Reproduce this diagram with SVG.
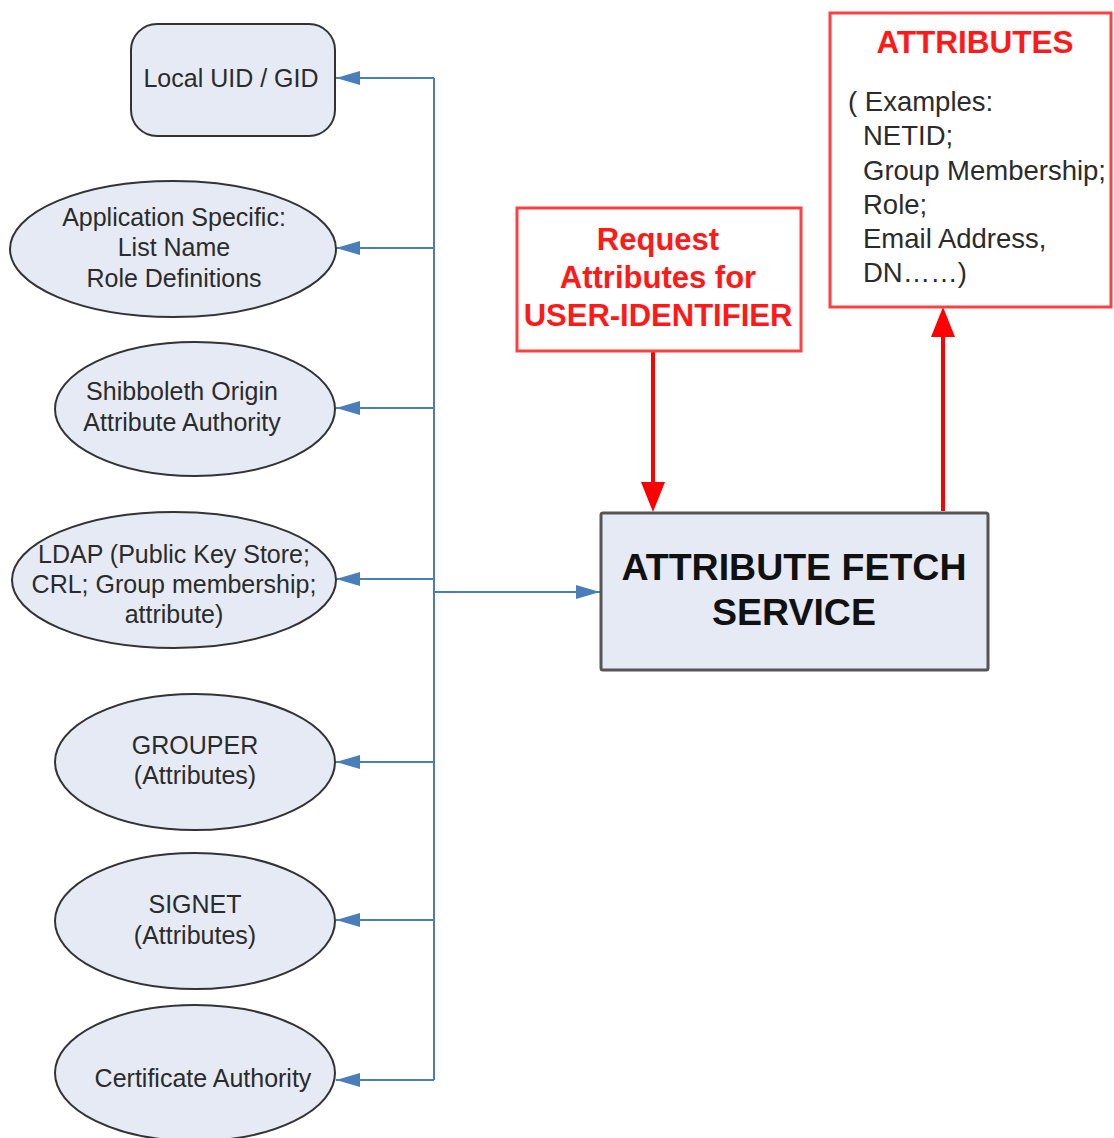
<svg xmlns="http://www.w3.org/2000/svg" width="1114" height="1138" viewBox="0 0 1114 1138">
  <style>
    .node { fill: #e5eaf5; stroke: #333; stroke-width: 2; }
    .lbl { font-family: "Liberation Sans", Arial, sans-serif; font-size: 25px; fill: #2b2b2b; text-anchor: middle; }
    .blue { stroke: #4a7ebb; stroke-width: 2; fill: none; }
    .red { stroke: #ff0000; stroke-width: 4; fill: none; }
    .redbox { fill: #ffffff; stroke: #ff4040; stroke-width: 3; }
    .redtxt { font-family: "Liberation Sans", Arial, sans-serif; font-weight: bold; fill: #ff1a1a; text-anchor: middle; }
    .body { font-family: "Liberation Sans", Arial, sans-serif; font-size: 27.5px; fill: #2b2b2b; }
  </style>
  <defs>
    <marker id="arrowBlue" markerUnits="userSpaceOnUse" markerWidth="24" markerHeight="14" refX="24" refY="7" orient="auto">
      <path d="M0,0 L24,7 L0,14 z" fill="#4a7ebb"/>
    </marker>
    <marker id="arrowRed" markerUnits="userSpaceOnUse" markerWidth="30" markerHeight="24" refX="20" refY="12" orient="auto">
      <path d="M0,0 L30,12 L0,24 z" fill="#ff0000"/>
    </marker>
  </defs>
  <rect width="1114" height="1138" fill="#ffffff"/>

  <!-- connectors -->
  <g id="connectors">
    <line class="blue" x1="434" y1="78" x2="434" y2="1080"/>
    <line class="blue" x1="434" y1="78" x2="336" y2="78" marker-end="url(#arrowBlue)"/>
    <line class="blue" x1="434" y1="248" x2="336" y2="248" marker-end="url(#arrowBlue)"/>
    <line class="blue" x1="434" y1="408" x2="336" y2="408" marker-end="url(#arrowBlue)"/>
    <line class="blue" x1="434" y1="579" x2="336" y2="579" marker-end="url(#arrowBlue)"/>
    <line class="blue" x1="434" y1="762" x2="336" y2="762" marker-end="url(#arrowBlue)"/>
    <line class="blue" x1="434" y1="920" x2="336" y2="920" marker-end="url(#arrowBlue)"/>
    <line class="blue" x1="434" y1="1080" x2="336" y2="1080" marker-end="url(#arrowBlue)"/>
    <line class="blue" x1="434" y1="592" x2="600" y2="592" marker-end="url(#arrowBlue)"/>
    <line class="red" x1="653" y1="352" x2="653" y2="502" marker-end="url(#arrowRed)"/>
    <line class="red" x1="943" y1="511" x2="943" y2="317" marker-end="url(#arrowRed)"/>
  </g>

  <!-- sources -->
  <g id="local-uid">
    <rect class="node" x="131" y="24" width="204" height="112" rx="26"/>
    <text class="lbl" x="231" y="87">Local UID / GID</text>
  </g>
  <g id="app-specific">
    <ellipse class="node" cx="173" cy="249" rx="163" ry="68"/>
    <text class="lbl" x="174" y="226">Application Specific:</text>
    <text class="lbl" x="174" y="256">List Name</text>
    <text class="lbl" x="174" y="287">Role Definitions</text>
  </g>
  <g id="shibboleth">
    <ellipse class="node" cx="195" cy="409" rx="140" ry="67"/>
    <text class="lbl" x="182" y="400">Shibboleth Origin</text>
    <text class="lbl" x="182" y="431">Attribute Authority</text>
  </g>
  <g id="ldap">
    <ellipse class="node" cx="174" cy="580" rx="162" ry="68"/>
    <text class="lbl" x="174" y="563">LDAP (Public Key Store;</text>
    <text class="lbl" x="174" y="593">CRL; Group membership;</text>
    <text class="lbl" x="174" y="623">attribute)</text>
  </g>
  <g id="grouper">
    <ellipse class="node" cx="195" cy="762" rx="140" ry="68"/>
    <text class="lbl" x="195" y="754">GROUPER</text>
    <text class="lbl" x="195" y="784">(Attributes)</text>
  </g>
  <g id="signet">
    <ellipse class="node" cx="195" cy="921" rx="140" ry="68"/>
    <text class="lbl" x="195" y="913">SIGNET</text>
    <text class="lbl" x="195" y="944">(Attributes)</text>
  </g>
  <g id="cert-authority">
    <ellipse class="node" cx="195" cy="1073" rx="140" ry="68"/>
    <text class="lbl" x="203" y="1087">Certificate Authority</text>
  </g>

  <!-- service -->
  <g id="fetch-service">
    <rect x="601" y="513" width="387" height="157" fill="#e5eaf5" stroke="#555" stroke-width="3" rx="2"/>
    <text x="794" y="580" font-family="Liberation Sans, Arial, sans-serif" font-weight="bold" font-size="37.5" fill="#111" text-anchor="middle">ATTRIBUTE FETCH</text>
    <text x="794" y="625" font-family="Liberation Sans, Arial, sans-serif" font-weight="bold" font-size="37.5" fill="#111" text-anchor="middle">SERVICE</text>
  </g>

  <!-- request -->
  <g id="request">
    <rect class="redbox" x="517" y="208" width="284" height="143"/>
    <text class="redtxt" x="658" y="250" font-size="31">Request</text>
    <text class="redtxt" x="658" y="288" font-size="31">Attributes for</text>
    <text class="redtxt" x="658" y="326" font-size="31">USER-IDENTIFIER</text>
  </g>

  <!-- result -->
  <g id="attributes">
    <rect class="redbox" x="830" y="13" width="281" height="294"/>
    <text class="redtxt" x="975" y="53" font-size="31.5">ATTRIBUTES</text>
    <text class="body" x="848" y="111">( Examples:</text>
    <text class="body" x="863" y="145">NETID;</text>
    <text class="body" x="863" y="180">Group Membership;</text>
    <text class="body" x="863" y="214">Role;</text>
    <text class="body" x="863" y="248">Email Address,</text>
    <text class="body" x="863" y="282">DN……)</text>
  </g>
</svg>
